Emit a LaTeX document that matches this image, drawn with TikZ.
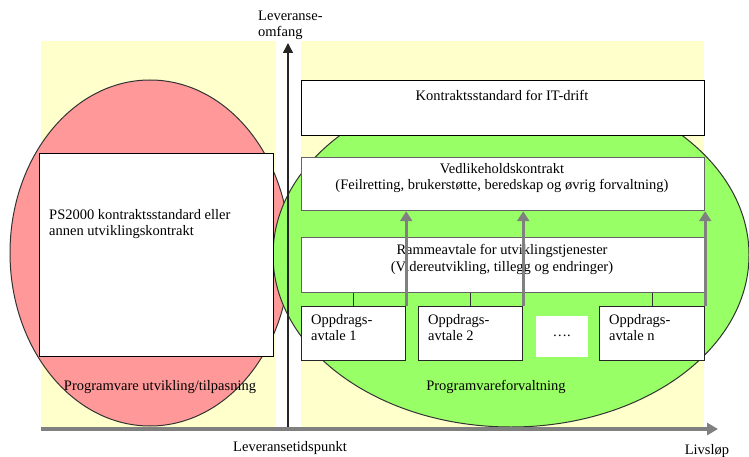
\documentclass[tikz,border=0pt]{standalone}
\usepackage{fontspec}
\setmainfont{Liberation Serif}
\usetikzlibrary{arrows.meta,shapes.geometric}
\definecolor{bgyellow}{RGB}{255,255,204}
\definecolor{redfill}{RGB}{255,153,153}
\definecolor{greenfill}{RGB}{153,255,102}
\definecolor{boxgrey}{RGB}{100,100,100}
\definecolor{axisgrey}{RGB}{128,128,128}
\tikzset{
  box/.style={draw=boxgrey, line width=1.2pt, fill=white, anchor=north west, inner sep=0pt},
  txt/.style={inner sep=0pt, font=\fontsize{14.5}{16.5}\selectfont},
  ltxt/.style={txt, align=left, anchor=west},
  ctxt/.style={txt, align=center},
  uparrow/.style={draw=axisgrey, line width=3pt, -{Triangle[length=10pt,width=12pt]}},
  conn/.style={draw=black!80, line width=1pt}
}
\begin{document}
\begin{tikzpicture}[x=1pt,y=-1pt]
\useasboundingbox (0,0) rectangle (749,457);
% background zones
\fill[bgyellow] (41,41) rectangle (276,428);
\fill[bgyellow] (301,41) rectangle (704,428);
% ellipses
\node[draw=black!80, line width=1pt, fill=redfill, ellipse, minimum width=280pt, minimum height=346pt, inner sep=0pt] (redell) at (150,253) {};
\node[draw=black!80, line width=1pt, fill=greenfill, ellipse, minimum width=476pt, minimum height=344pt, inner sep=0pt] (greenell) at (511,255) {};
% left box
\node[box, draw=black, minimum width=234pt, minimum height=203pt] (ps) at (39,153) {};
\node[ltxt] (pstxt) at (49,224) {PS2000 kontraktsstandard eller\\annen utviklingskontrakt};
% right boxes
\node[box, draw=black, minimum width=403pt, minimum height=55pt] (it) at (301,80) {};
\node[ctxt] (ittxt) at (502,95) {Kontraktsstandard for IT-drift};
\node[box, minimum width=403pt, minimum height=53pt] (vedl) at (301,157) {};
\node[ctxt] (vedltxt) at (502,178) {Vedlikeholdskontrakt\\(Feilretting, brukerstøtte, beredskap og øvrig forvaltning)};
\node[box, minimum width=403pt, minimum height=55pt] (ramme) at (301,237) {};
\node[ctxt] (rammetxt) at (502,259.5) {Rammeavtale for utviklingstjenester\\(Videreutvikling, tillegg og endringer)};
\node[box, draw=black!85, minimum width=104pt, minimum height=54pt] (op1) at (301,306) {};
\node[box, draw=black!85, minimum width=104pt, minimum height=54pt] (op2) at (418,306) {};
\node[box, draw=none, minimum width=52pt, minimum height=41pt] (dots) at (535,315) {};
\node[box, draw=black!85, minimum width=105pt, minimum height=54pt] (opn) at (599,306) {};
\node[ltxt] (op1txt) at (311,327.5) {Oppdrags-\\avtale 1};
\node[ltxt] (op2txt) at (428,327.5) {Oppdrags-\\avtale 2};
\node[ltxt] (opntxt) at (609,327.5) {Oppdrags-\\avtale n};
\node[ctxt] (dotstxt) at (dots.center) {….};
% connectors ramme -> oppdrag
\draw[conn] (op1.north) -- (op1.north |- ramme.south);
\draw[conn] (op2.north) -- (op2.north |- ramme.south);
\draw[conn] (opn.north) -- (opn.north |- ramme.south);
% grey arrows oppdrag -> vedlikehold
\draw[uparrow] (op1.north east) -- (op1.north east |- vedl.south);
\draw[uparrow] (op2.north east) -- (op2.north east |- vedl.south);
\draw[uparrow] (opn.north east) -- (opn.north east |- vedl.south);
% zone labels
\node[ctxt] (lblutv) at (160,387) {Programvare utvikling/tilpasning};
\node[ctxt] (lblforv) at (496,387) {Programvareforvaltning};
% axes
\coordinate (origin) at (288,429);
\coordinate (ytop) at (288,43);
\coordinate (xstart) at (41,429);
\coordinate (xend) at (718,429);
\draw[draw=black!85, line width=1.5pt, -{Triangle[length=10pt,width=10pt]}] (origin) -- (ytop);
\draw[draw=axisgrey, line width=3.5pt, -{Triangle[length=11pt,width=12pt]}] (xstart) -- (xend);
\node[ltxt, anchor=west] (ylbl) at (258,25.5) {Leveranse-\\omfang};
\node[ctxt] (tlbl) at (290,448) {Leveransetidspunkt};
\node[ctxt] (xlbl) at (707,451) {Livsløp};
\end{tikzpicture}
\end{document}
